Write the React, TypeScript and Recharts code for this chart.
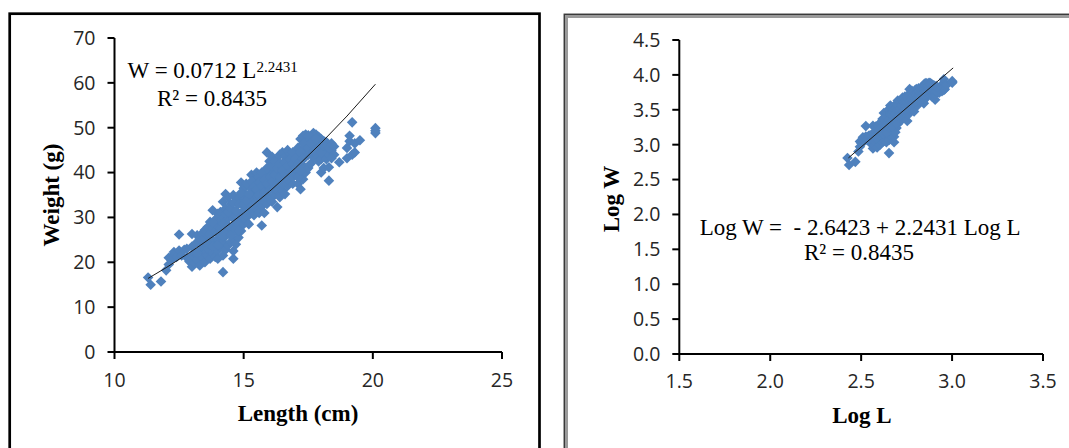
import React from 'react'
import { ScatterChart, Scatter, XAxis, YAxis } from 'recharts'

// length (cm), weight (g)
const FISH: [number, number][] = [
  [11.3, 16.6], [11.4, 15.0], [11.8, 15.7], [12.0, 18.2], [12.1, 19.5], [12.1, 21.0], [12.2, 20.5],
  [12.3, 21.8], [12.3, 22.3], [12.4, 21.2], [12.5, 26.2], [12.5, 22.6], [12.6, 21.5], [12.7, 22.8],
  [12.8, 23.0], [12.8, 21.0], [12.9, 20.2], [13.0, 21.5], [13.0, 23.5], [13.0, 26.3], [13.0, 19.0],
  [13.1, 19.8], [13.1, 22.2], [13.2, 26.0], [13.2, 24.5], [13.2, 20.5], [13.3, 19.3], [13.3, 22.8],
  [13.3, 25.2], [13.4, 21.0], [13.4, 23.6], [13.4, 26.5], [13.5, 20.0], [13.5, 22.0], [13.5, 24.2],
  [13.5, 27.2], [13.6, 21.5], [13.6, 23.0], [13.6, 25.5], [13.6, 27.8], [13.7, 20.8], [13.7, 24.0],
  [13.7, 26.3], [13.7, 29.0], [13.8, 22.0], [13.8, 25.0], [13.8, 27.5], [13.8, 31.6], [13.9, 21.2],
  [13.9, 23.8], [13.9, 26.8], [13.9, 29.5], [14.0, 22.6], [14.0, 25.2], [14.0, 28.0], [14.0, 30.8],
  [14.0, 20.8], [14.1, 23.5], [14.1, 26.0], [14.1, 29.0], [14.1, 31.2], [14.2, 17.8], [14.2, 21.5],
  [14.2, 24.5], [14.2, 27.0], [14.2, 30.0], [14.2, 33.5], [14.3, 22.8], [14.3, 25.8], [14.3, 28.5],
  [14.3, 32.0], [14.3, 35.2], [14.4, 23.8], [14.4, 26.8], [14.4, 29.8], [14.4, 34.5], [14.5, 24.5],
  [14.5, 27.5], [14.5, 30.5], [14.5, 33.0], [14.6, 20.8], [14.6, 22.5], [14.6, 25.2], [14.6, 28.2],
  [14.6, 31.5], [14.6, 35.0], [14.7, 24.0], [14.7, 27.0], [14.7, 29.8], [14.7, 33.5], [14.8, 25.5],
  [14.8, 28.5], [14.8, 31.0], [14.8, 34.2], [14.9, 37.8], [14.9, 27.0], [14.9, 30.0], [14.9, 33.0],
  [15.0, 28.5], [15.0, 31.5], [15.0, 34.5], [15.0, 36.5], [15.1, 29.0], [15.1, 32.0], [15.1, 35.0],
  [15.2, 28.5], [15.2, 30.5], [15.2, 33.5], [15.2, 37.0], [15.3, 31.0], [15.3, 34.0], [15.3, 36.5],
  [15.3, 39.5], [15.4, 30.5], [15.4, 33.0], [15.4, 35.5], [15.4, 38.2], [15.5, 32.0], [15.5, 34.8],
  [15.5, 37.5], [15.5, 40.0], [15.6, 31.0], [15.6, 33.5], [15.6, 36.5], [15.6, 39.0], [15.7, 28.2],
  [15.7, 32.5], [15.7, 35.5], [15.7, 38.5], [15.8, 31.0], [15.8, 34.0], [15.8, 37.0], [15.8, 40.2],
  [15.9, 44.5], [15.9, 33.0], [15.9, 36.0], [15.9, 39.0], [16.0, 34.5], [16.0, 37.5], [16.0, 40.5],
  [16.0, 42.5], [16.1, 33.5], [16.1, 36.5], [16.1, 39.5], [16.1, 43.5], [16.2, 35.0], [16.2, 38.0],
  [16.2, 41.0], [16.3, 32.3], [16.3, 36.0], [16.3, 39.5], [16.3, 42.5], [16.4, 34.5], [16.4, 37.5],
  [16.4, 40.5], [16.4, 44.0], [16.5, 36.0], [16.5, 39.0], [16.5, 42.0], [16.5, 44.5], [16.6, 35.2],
  [16.6, 38.0], [16.6, 41.0], [16.6, 43.5], [16.7, 37.0], [16.7, 40.0], [16.7, 43.0], [16.7, 45.0],
  [16.8, 38.5], [16.8, 41.5], [16.8, 44.2], [16.9, 37.5], [16.9, 40.5], [16.9, 43.0], [17.0, 39.5],
  [17.0, 42.0], [17.0, 44.5], [17.1, 37.5], [17.1, 40.5], [17.1, 43.5], [17.2, 36.3], [17.2, 39.0],
  [17.2, 42.0], [17.2, 47.5], [17.3, 38.5], [17.3, 41.5], [17.3, 45.0], [17.3, 48.2], [17.4, 40.0],
  [17.4, 43.5], [17.4, 46.5], [17.4, 48.5], [17.5, 41.0], [17.5, 44.0], [17.5, 47.0], [17.6, 42.0],
  [17.6, 45.0], [17.6, 48.0], [17.7, 43.5], [17.7, 46.0], [17.7, 48.8], [17.8, 44.0], [17.8, 46.8],
  [17.8, 48.5], [17.9, 42.5], [17.9, 45.5], [17.9, 48.0], [18.0, 43.0], [18.0, 46.0], [18.0, 47.5],
  [18.0, 40.0], [18.1, 41.0], [18.1, 44.5], [18.1, 47.0], [18.2, 43.0], [18.2, 45.8], [18.2, 46.8],
  [18.3, 38.2], [18.3, 41.2], [18.3, 44.0], [18.4, 45.0], [18.4, 46.5], [18.5, 44.0], [18.7, 42.3],
  [19.0, 43.2], [19.0, 45.5], [19.1, 48.2], [19.1, 47.0], [19.2, 51.2], [19.2, 44.0], [19.3, 44.5],
  [19.3, 46.5], [19.5, 47.2], [20.1, 49.9], [20.1, 48.8], [20.1, 49.3],
  // denser core of the cloud
  [13.2, 22.0], [13.4, 24.8], [13.6, 24.2], [13.8, 23.5], [13.8, 28.8], [14.0, 23.8], [14.0, 26.6],
  [14.1, 27.6], [14.2, 25.8], [14.2, 28.6], [14.3, 30.8], [14.4, 28.2], [14.4, 31.2], [14.5, 26.0],
  [14.5, 32.0], [14.6, 29.8], [14.6, 33.2], [14.7, 31.5], [14.8, 27.0], [14.8, 33.0], [14.9, 35.5],
  [15.0, 30.0], [15.0, 33.0], [15.1, 30.5], [15.1, 33.8], [15.1, 37.5], [15.2, 35.2], [15.3, 32.5],
  [15.3, 38.0], [15.4, 36.8], [15.5, 33.5], [15.5, 36.2], [15.6, 35.0], [15.6, 37.8], [15.7, 34.0],
  [15.7, 37.0], [15.7, 40.0], [15.8, 35.5], [15.8, 38.5], [15.9, 37.5], [15.9, 41.0], [16.0, 36.0],
  [16.0, 39.0], [16.1, 38.0], [16.1, 41.5], [16.2, 36.5], [16.2, 39.5], [16.2, 42.5], [16.3, 37.5],
  [16.3, 41.0], [16.4, 39.0], [16.4, 42.0], [16.5, 37.5], [16.5, 40.5], [16.6, 39.5], [16.6, 42.3],
  [16.7, 38.5], [16.7, 41.5], [16.8, 40.0], [16.8, 43.0], [16.9, 39.0], [16.9, 42.0], [16.9, 44.5],
  [17.0, 41.0], [17.0, 43.2], [17.1, 39.0], [17.1, 42.0], [17.1, 45.5], [17.2, 40.5], [17.2, 44.5],
  [17.3, 43.0], [17.3, 46.5], [17.5, 45.5], [17.5, 48.3], [17.6, 46.5], [17.7, 44.8], [17.8, 47.5],
  [18.0, 44.5], [18.1, 46.0], [18.3, 45.5], [18.4, 43.2], [18.5, 45.8],
]

// fitted power curve as drawn
const TREND_L = [11.3, 12, 13, 14, 15, 16, 17, 18, 19, 20.1]
const TREND_W = [16.4, 18.8, 22.5, 26.5, 31.0, 35.8, 41.0, 46.6, 52.6, 59.7]

// fitted straight line on the log panel
const LOG_TREND_L = [2.43, 3.006]
const LOG_TREND_W = [2.81, 4.1]

const LEN_TICKS = [10, 15, 20, 25]
const WT_TICKS = [0, 10, 20, 30, 40, 50, 60, 70]
const LOGL_TICKS = [1.5, 2.0, 2.5, 3.0, 3.5]
const LOGW_TICKS = [0, 0.5, 1.0, 1.5, 2.0, 2.5, 3.0, 3.5, 4.0, 4.5]

const BLUE = '#4F81BD'
const SERIF = '"Liberation Serif", "Times New Roman", serif'
const SANS = '"Open Sans", "Noto Sans", sans-serif'

const rawData = FISH.map(([l, w]) => ({ x: l, y: w }))
const logData = FISH.map(([l, w]) => ({ x: Math.log(l), y: Math.log(w) }))
const trendData = TREND_L.map((l, i) => ({ x: l, y: TREND_W[i] }))
const logTrendData = LOG_TREND_L.map((l, i) => ({ x: l, y: LOG_TREND_W[i] }))

const Diamond = (props: any) => {
  const { cx, cy } = props
  if (cx == null || cy == null) return <g />
  const r = 5.3
  return (
    <path
      d={`M${cx},${cy - r}L${cx + r},${cy}L${cx},${cy + r}L${cx - r},${cy}Z`}
      fill={BLUE}
    />
  )
}

const NoDot = () => <g />

const axisLine = { stroke: '#000', strokeWidth: 2 }
const tickFont = { fill: '#262626', fontSize: 19.5, fontFamily: SANS }

export default function App() {
  return (
    <div
      style={{
        position: 'fixed',
        left: 0,
        top: 0,
        width: 1069,
        height: 448,
        background: '#fff',
        overflow: 'hidden',
      }}
    >
      <div style={{ position: 'absolute', left: 0, top: 0 }}>
        <ScatterChart width={540} height={448} margin={{ top: 38, right: 38, bottom: 36, left: 54.5 }}>
          <XAxis
            type="number"
            dataKey="x"
            domain={[10, 25]}
            ticks={LEN_TICKS}
            interval={0}
            height={60}
            tickSize={7}
            tickMargin={14}
            axisLine={axisLine}
            tickLine={axisLine}
            tick={tickFont}
          />
          <YAxis
            type="number"
            dataKey="y"
            domain={[0, 70]}
            ticks={WT_TICKS}
            interval={0}
            width={60}
            tickSize={7}
            tickMargin={12}
            axisLine={axisLine}
            tickLine={axisLine}
            tick={tickFont}
          />
          <Scatter data={rawData} shape={<Diamond />} isAnimationActive={false} />
          <Scatter
            data={trendData}
            line={{ stroke: '#1a1a1a', strokeWidth: 1 }}
            lineType="joint"
            shape={<NoDot />}
            isAnimationActive={false}
          />
        </ScatterChart>
      </div>

      <div style={{ position: 'absolute', left: 541, top: 0 }}>
        <ScatterChart width={528} height={448} margin={{ top: 40, right: 26, bottom: 34, left: 78.3 }}>
          <XAxis
            type="number"
            dataKey="x"
            domain={[1.5, 3.5]}
            ticks={LOGL_TICKS}
            interval={0}
            height={60}
            tickSize={7}
            tickMargin={13}
            axisLine={axisLine}
            tickLine={axisLine}
            tick={tickFont}
            tickFormatter={(v: number) => v.toFixed(1)}
          />
          <YAxis
            type="number"
            dataKey="y"
            domain={[0, 4.5]}
            ticks={LOGW_TICKS}
            interval={0}
            width={60}
            tickSize={7}
            tickMargin={12}
            axisLine={axisLine}
            tickLine={axisLine}
            tick={tickFont}
            tickFormatter={(v: number) => v.toFixed(1)}
          />
          <Scatter data={logData} shape={<Diamond />} isAnimationActive={false} />
          <Scatter
            data={logTrendData}
            line={{ stroke: '#1a1a1a', strokeWidth: 1 }}
            lineType="joint"
            shape={<NoDot />}
            isAnimationActive={false}
          />
        </ScatterChart>
      </div>

      <svg
        width={1069}
        height={448}
        style={{ position: 'absolute', left: 0, top: 0, pointerEvents: 'none' }}
      >
        {/* panel frames */}
        <rect x={9.7} y={13.7} width={529.8} height={600} fill="none" stroke="#000" strokeWidth={2.7} />
        <rect x={564.3} y={14.3} width={600} height={600} fill="none" stroke="#3a3a3a" strokeWidth={1.5} />
        <rect x={566.5} y={16.5} width={600} height={600} fill="none" stroke="#9a9a9a" strokeWidth={3} />

        {/* left panel text */}
        <text x={298} y={421} textAnchor="middle" fontFamily={SERIF} fontWeight="bold" fontSize={23} fill="#000">
          Length (cm)
        </text>
        <text
          transform="translate(58.6,195) rotate(-90)"
          textAnchor="middle"
          fontFamily={SERIF}
          fontWeight="bold"
          fontSize={23}
          fill="#000"
        >
          Weight (g)
        </text>
        <text x={127.6} y={78.3} fontFamily={SERIF} fontSize={23} fill="#000" style={{ whiteSpace: 'pre' }}>
          W = 0.0712 L
          <tspan fontSize={15} dy={-6.6}>2.2431</tspan>
        </text>
        <text x={157} y={106} fontFamily={SERIF} fontSize={23} fill="#000" style={{ whiteSpace: 'pre' }}>
          R² = 0.8435
        </text>

        {/* right panel text */}
        <text x={862} y={422.7} textAnchor="middle" fontFamily={SERIF} fontWeight="bold" fontSize={23} fill="#000">
          Log L
        </text>
        <text
          transform="translate(619.3,199) rotate(-90)"
          textAnchor="middle"
          fontFamily={SERIF}
          fontWeight="bold"
          fontSize={23}
          fill="#000"
        >
          Log W
        </text>
        <text x={699.7} y={235} fontFamily={SERIF} fontSize={23} fill="#000" style={{ whiteSpace: 'pre' }}>
          {'Log W =  - 2.6423 + 2.2431 Log L'}
        </text>
        <text x={804} y={260} fontFamily={SERIF} fontSize={23} fill="#000" style={{ whiteSpace: 'pre' }}>
          R² = 0.8435
        </text>
      </svg>
    </div>
  )
}
